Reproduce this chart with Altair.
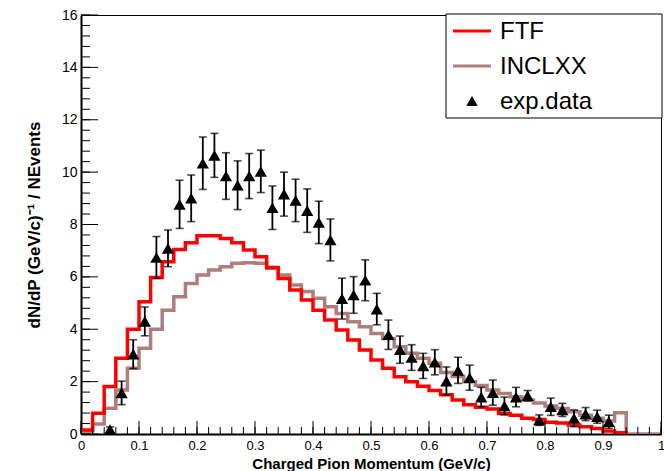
import altair as alt
import pandas as pd

# ---------------- data ----------------
BIN_W = 0.02
ftf_vals = [0.15, 0.79, 1.81, 2.89, 4.0, 5.05, 5.98, 6.58, 7.05, 7.3,
            7.57, 7.57, 7.47, 7.3, 7.03, 6.77, 6.36, 5.94, 5.5, 5.12,
            4.73, 4.35, 3.97, 3.59, 3.21, 2.83, 2.51, 2.19, 2.0, 1.82,
            1.66, 1.5, 1.3, 1.12, 1.02, 0.95, 0.78, 0.72, 0.6, 0.55,
            0.45, 0.42, 0.34, 0.28, 0.21, 0.11, 0.05]
incl_vals = [0.05, 0.38, 0.98, 1.68, 2.51, 3.27, 4.0, 4.73, 5.24, 5.75,
             6.07, 6.26, 6.39, 6.52, 6.54, 6.52, 6.33, 6.07, 5.69, 5.44,
             5.18, 4.86, 4.6, 4.29, 4.1, 3.84, 3.65, 3.33, 3.08, 2.89,
             2.7, 2.35, 2.2, 2.0, 1.85, 1.68, 1.55, 1.42, 1.3, 1.18,
             1.07, 0.97, 0.85, 0.72, 0.6, 0.5, 0.81, 0.0, 0.0, 0.0]

exp_x = [0.05, 0.07, 0.09, 0.11, 0.13, 0.15, 0.17, 0.19, 0.21, 0.23,
         0.25, 0.27, 0.29, 0.31, 0.33, 0.35, 0.37, 0.39, 0.41, 0.43,
         0.45, 0.47, 0.49, 0.51, 0.53, 0.55, 0.57, 0.59, 0.61, 0.63,
         0.65, 0.67, 0.69, 0.71, 0.73, 0.75, 0.77, 0.79, 0.81, 0.83,
         0.85, 0.87, 0.89, 0.91]
exp_y = [0.17, 1.57, 3.05, 4.3, 6.74, 7.09, 8.77, 9.0, 10.34, 10.64,
         9.85, 9.5, 9.85, 10.03, 8.64, 9.16, 8.92, 8.53, 8.08, 7.41,
         5.17, 5.31, 5.87, 4.77, 3.79, 3.22, 2.92, 2.6, 2.74, 2.02,
         2.43, 2.15, 1.41, 1.58, 1.07, 1.41, 1.46, 0.53, 1.04, 0.92,
         0.6, 0.76, 0.66, 0.47]
exp_err = [0.1, 0.45, 0.55, 0.55, 0.8, 0.7, 0.92, 0.89, 1.0, 0.84,
           0.89, 0.93, 0.86, 0.81, 0.83, 0.84, 0.81, 0.83, 0.81, 0.8,
           0.78, 0.7, 0.78, 0.6, 0.56, 0.52, 0.49, 0.48, 0.48, 0.54,
           0.5, 0.48, 0.37, 0.48, 0.34, 0.37, 0.2, 0.2, 0.33, 0.25,
           0.32, 0.25, 0.25, 0.25]

x_labels = [0, 0.1, 0.2, 0.3, 0.4, 0.5, 0.6, 0.7, 0.8, 0.9, 1.0]
y_labels = [0, 2, 4, 6, 8, 10, 12, 14, 16]
legend_names = ["FTF", "INCLXX", "exp.data"]

# ---------------- tables ----------------
def hist_table(vals, end):
    xs_ = [round(i * BIN_W, 4) for i in range(len(vals))]
    ys_ = list(vals)
    xs_.append(round(len(vals) * BIN_W, 4)); ys_.append(0.0)
    if end > xs_[-1]:
        xs_.append(end); ys_.append(0.0)
    return pd.DataFrame({"x": xs_, "y": ys_})

ftf_df = hist_table(ftf_vals, 0.94)
incl_df = hist_table(incl_vals, 1.0)
exp_df = pd.DataFrame({"x": exp_x, "y": exp_y,
                       "lo": [a - b for a, b in zip(exp_y, exp_err)],
                       "hi": [a + b for a, b in zip(exp_y, exp_err)]})

x_major = pd.DataFrame({"x": x_labels})
x_minor = pd.DataFrame({"x": [round(i * 0.02, 3) for i in range(51)]})
y_major = pd.DataFrame({"y": y_labels})
y_minor = pd.DataFrame({"y": [round(i * 0.4, 2) for i in range(41)]})

W, H = 580, 419
FONT = "Liberation Sans"
RED = "#ff0000"
BROWN = "#b07d7d"

xs = alt.Scale(domain=[0, 1], nice=False, zero=False)
ys = alt.Scale(domain=[0, 16], nice=False, zero=False)

X_TITLE = "Charged Pion Momentum (GeV/c)"
Y_TITLE = "dN/dP (GeV/c)⁻¹ / NEvents"

x_axis = alt.Axis(values=x_labels, format="~g", ticks=False, tickSize=0, grid=False,
                  labelPadding=5, labelFont=FONT, labelFontSize=13, labelColor="black",
                  domainColor="black", domainWidth=2, labelFlush=False,
                  titleFont=FONT, titleFontSize=15,
                  titleFontWeight="bold", titleColor="black", titleY=34,
                  titleBaseline="alphabetic")
y_axis = alt.Axis(values=y_labels, ticks=False, tickSize=0, grid=False,
                  labelPadding=4, labelFont=FONT, labelFontSize=14, labelColor="black",
                  domainColor="black", domainWidth=2, labelFlush=False,
                  titleFont=FONT, titleFontSize=17,
                  titleFontWeight="bold", titleColor="black", titleX=-42,
                  titleBaseline="alphabetic")


def X(field):
    return alt.X(f"{field}:Q", scale=xs, axis=x_axis, title=X_TITLE)


def Y(field):
    return alt.Y(f"{field}:Q", scale=ys, axis=y_axis, title=Y_TITLE)


incl = alt.Chart(incl_df).mark_line(interpolate="step-after", color=BROWN,
                                    strokeWidth=3.5, clip=True).encode(
    x=X("x"), y=Y("y"))
ftf = alt.Chart(ftf_df).mark_line(interpolate="step-after", color=RED,
                                  strokeWidth=3.5, clip=True).encode(
    x=X("x"), y=Y("y"))

# ticks (inside the frame)
xmaj = alt.Chart(x_major).mark_rule(color="black", strokeWidth=1).encode(
    x=X("x"), y=alt.value(H), y2=alt.value(H - 13))
xmin = alt.Chart(x_minor).mark_rule(color="black", strokeWidth=1).encode(
    x=X("x"), y=alt.value(H), y2=alt.value(H - 7))
ymaj = alt.Chart(y_major).mark_rule(color="black", strokeWidth=1).encode(
    y=Y("y"), x=alt.value(0), x2=alt.value(17))
ymin = alt.Chart(y_minor).mark_rule(color="black", strokeWidth=1).encode(
    y=Y("y"), x=alt.value(0), x2=alt.value(9))

# experimental data
err = alt.Chart(exp_df).mark_rule(color="black", strokeWidth=1.8).encode(
    x=X("x"), y=Y("lo"), y2="hi:Q")
cap_lo = alt.Chart(exp_df).mark_tick(color="black", orient="horizontal", size=8,
                                     thickness=1.6).encode(x=X("x"), y=Y("lo"))
cap_hi = alt.Chart(exp_df).mark_tick(color="black", orient="horizontal", size=8,
                                     thickness=1.6).encode(x=X("x"), y=Y("hi"))
pts = alt.Chart(exp_df).mark_point(shape="triangle-up", filled=True, color="black",
                                   size=150, opacity=1).encode(x=X("x"), y=Y("y"))

# legend
one = pd.DataFrame({"a": [0]})
leg_box = alt.Chart(one).mark_rect(fill="white", stroke="black", strokeWidth=1).encode(
    x=alt.value(365), x2=alt.value(581), y=alt.value(-1), y2=alt.value(103))
leg_red = alt.Chart(one).mark_rule(color=RED, strokeWidth=3).encode(
    x=alt.value(372), x2=alt.value(410), y=alt.value(16))
leg_brown = alt.Chart(one).mark_rule(color=BROWN, strokeWidth=3).encode(
    x=alt.value(372), x2=alt.value(410), y=alt.value(51))
leg_tri = alt.Chart(one).mark_point(shape="triangle-up", filled=True, color="black",
                                    size=130, opacity=1).encode(
    x=alt.value(391), y=alt.value(86))
leg_y = [24, 59, 94]
leg_texts = [
    alt.Chart(pd.DataFrame({"name": [nm]})).mark_text(
        align="left", baseline="alphabetic", font=FONT, fontSize=24, color="black"
    ).encode(text="name:N", x=alt.value(419), y=alt.value(yy))
    for nm, yy in zip(legend_names, leg_y)
]

chart = alt.layer(
    incl, ftf, xmin, xmaj, ymin, ymaj, err, cap_lo, cap_hi, pts,
    leg_box, leg_red, leg_brown, leg_tri, *leg_texts
).properties(
    width=W, height=H, autosize="none",
    padding={"left": 81, "top": 15, "right": 3, "bottom": 37},
    background="white"
).configure_view(stroke="black", strokeWidth=1)

chart.save("out.html", embed_options={"renderer": "svg", "actions": False})
